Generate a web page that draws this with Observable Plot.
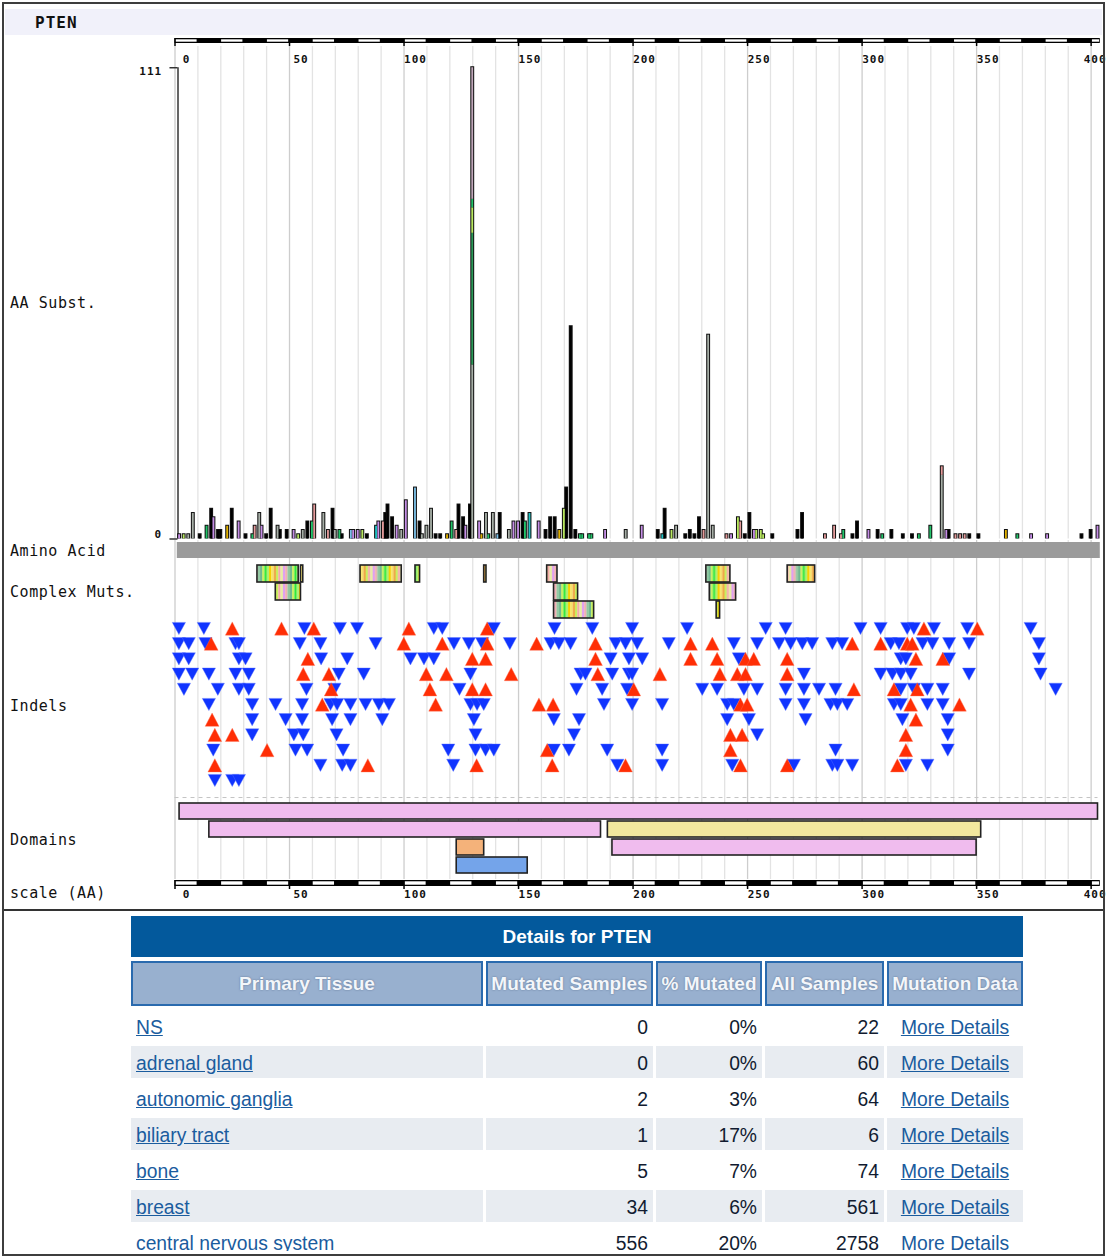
<!DOCTYPE html>
<html><head><meta charset="utf-8">
<script src="https://cdn.jsdelivr.net/npm/d3@7"></script>
<script src="https://cdn.jsdelivr.net/npm/@observablehq/plot@0.6"></script>
<style>
html,body{margin:0;padding:0;background:#fff;overflow:hidden;width:1107px;height:1257px;}
#page{position:relative;width:1107px;height:1257px;overflow:hidden;}
.panel{position:absolute;left:0;}
.panel svg{display:block;overflow:visible;max-width:none;}
.panel text{letter-spacing:1px;}
.lbl{position:absolute;left:10px;font-family:"DejaVu Sans Mono",monospace;font-size:15px;line-height:16px;letter-spacing:0.55px;color:#111;white-space:nowrap;}
#hdr{position:absolute;left:5px;top:9px;width:1097px;height:26px;background:#f1f1fa;}
#hdr span{position:absolute;left:30px;top:4px;font-family:"DejaVu Sans Mono",monospace;font-weight:bold;font-size:16px;letter-spacing:1px;color:#111;}
#frame{position:absolute;left:2px;top:2px;width:1099px;height:1250px;border:2px solid #3d3d3d;pointer-events:none;}
#sep{position:absolute;left:3px;top:909px;width:1101px;height:2px;background:#333;}
#tablewrap{position:absolute;left:0;top:912px;width:1103px;height:339px;overflow:hidden;}
table.details{position:absolute;left:128px;top:0;border-collapse:separate;border-spacing:3px 4px;table-layout:fixed;width:898px;font-family:"Liberation Sans",Arial,sans-serif;font-size:19.3px;}
table.details td.title{height:41px;background:#03599c;color:#fff;font-weight:bold;text-align:center;padding:0;font-size:19px;}
table.details th{height:41px;background:#98b0cf;border:2px solid #2a6aae;color:#f3f6fa;font-weight:bold;text-align:center;padding:0;white-space:nowrap;overflow:hidden;text-shadow:0 0 2px #5d7190;font-size:19px;}
table.details tr.data td{height:28px;padding:4px 5px 0 5px;vertical-align:middle;white-space:nowrap;color:#111b30;}
table.details tr.data + tr.data td{}
table.details tr.alt td{background:#e8ecf1;}
table.details td.num{text-align:right;}
table.details td.md{text-align:center;}
table.details a{color:#1a5c9e;text-decoration:underline;}
</style></head>
<body><div id="page"></div>
<script>
// ---------------- data ----------------
const geneName = "PTEN";
const proteinLength = 403;
const axisTicks = [0, 50, 100, 150, 200, 250, 300, 350, 400];
const substTicks = [0, 111];

// AA substitutions: [residue, count, substitution colour class]
const aaSubst = [
  [2,1,"lavender"],[4,1,"lgreen"],[6,1,"gray"],[8,6,"gray"],[11,1,"black"],
  [14,3,"green"],[16,7,"black"],[17,5,"lavender"],[19,2,"black"],[20,2,"black"],
  [23,3,"yellow"],[25,7,"black"],[28,4,"lavender"],
  [31,1,"black"],[34,1,"green"],[35,3,"pink"],[37,6,"gray"],[38,3,"lavender"],[40,1,"black"],
  [42,7,"black"],[45,3,"gray"],[46,2,"black"],[49,2,"black"],
  [52,2,"lavender"],[54,1,"lgreen"],[56,2,"gray"],[58,4,"black"],[60,4,"green"],[61,8,"pink"],
  [65,6,"gray"],[67,2,"pink"],[69,7,"black"],[70,2,"gray"],[72,2,"green"],[73,1,"black"],
  [77,2,"lblue"],[78,2,"lavender"],[80,2,"lavender"],[82,2,"lgreen"],[84,1,"black"],
  [88,3,"cyan"],[89,4,"lavender"],[91,4,"pink"],[92,6,"black"],[93,8,"black"],[95,5,"black"],[97,3,"lavender"],[99,2,"gray"],[101,9,"lavender"],
  [105,12,"lblue"],[107,4,"black"],[108,1,"gray"],[110,3,"gray"],[112,7,"gray"],[114,1,"black"],[116,1,"black"],
  [119,1,"yellow"],[121,4,"green"],[123,2,"pink"],[124,8,"black"],[126,5,"black"],[127,3,"lavender"],[129,8,"black"],
  [130,41,"gray"],[130,31,"dgreen"],[130,6,"lgreen"],[130,2,"green"],[130,31,"mauve"],
  [133,4,"lavender"],[134,1,"yellow"],[136,6,"gray"],[137,1,"green"],[139,6,"gray"],[141,1,"lblue"],[142,6,"black"],
  [146,2,"gray"],[148,4,"lavender"],[150,4,"lavender"],[152,6,"black"],[153,4,"green"],[155,6,"cyan"],
  [159,4,"lavender"],[162,2,"black"],[164,5,"black"],[166,5,"black"],[168,2,"yellow"],[170,7,"lgreen"],[171,12,"black"],[173,50,"black"],
  [175,2,"black"],[177,1,"green"],[178,1,"green"],[181,1,"green"],[182,1,"green"],[188,2,"lavender"],[197,2,"gray"],[204,3,"lavender"],
  [211,2,"black"],[213,1,"cyan"],[214,7,"black"],[217,2,"lgreen"],[219,3,"gray"],[223,1,"black"],[225,2,"black"],[227,1,"black"],[229,5,"black"],[231,2,"pink"],[233,48,"gray"],[235,3,"gray"],
  [241,1,"pink"],[243,1,"lavender"],[246,5,"lgreen"],[247,4,"pink"],[249,1,"black"],[251,6,"black"],[253,2,"lavender"],[254,2,"lgreen"],[256,2,"lgreen"],[257,1,"lgreen"],[261,1,"black"],
  [272,2,"black"],[274,6,"black"],
  [284,1,"pink"],[288,3,"pink"],[291,1,"pink"],[292,2,"green"],[296,1,"black"],[298,4,"black"],
  [303,2,"lavender"],[307,2,"black"],[309,1,"green"],[313,2,"black"],[318,1,"black"],[322,1,"black"],[325,1,"green"],[330,3,"green"],[335,15,"gray"],[335,2,"pink"],
  [337,2,"lavender"],[338,2,"black"],[341,1,"pink"],[343,1,"pink"],[345,1,"pink"],[347,1,"black"],
  [351,1,"black"],[363,2,"yellow"],[368,1,"green"],[374,1,"lavender"],[381,1,"lavender"],[396,1,"black"],[400,2,"black"],[403,3,"lavender"]
];
const substTypes  = ["gray","black","lgreen","yellow","lavender","pink","lblue","green","cyan","dgreen","mauve"];
const substColors = ["#a6aea6","#000000","#b8e860","#e0b000","#c58ee6","#e49a9a","#7cc0e8","#22c46a","#20c4c4","#2a9a58","#bfa6b8"];

// complex mutations: [start, end, row]
const complexMuts = [
  [36,54,1],[55,56,1],[81,99,1],[105,107,1],[135,136,1],[162.5,167,1],[232,242.5,1],[267.5,279.5,1],
  [44,55,2],[165.5,176,2],[233.5,245,2],
  [165.5,183,3],[236.5,238,3]
];

// indels: [residue, row]
const deletions = [
  [1.7,1],[12.6,1],[56.5,1],[72,1],[79.5,1],[113,1],[116.7,1],[139.2,1],[165.7,1],[182.2,1],[199.6,1],[223.6,1],[257.9,1],[266.6,1],[299.3,1],[308.1,1],[319.7,1],[322.6,1],[331.4,1],[345.9,1],[373.6,1],
  [1.7,2],[6,2],[13.3,2],[26.4,2],[27.9,2],[54.5,2],[63.5,2],[87.6,2],[121.8,2],[128.3,2],[134.1,2],[146.2,2],[164,2],[167.6,2],[172.7,2],[192.4,2],[196.7,2],[201.8,2],[215.6,2],[244,2],[254.2,2],[263.7,2],[268.8,2],[273.9,2],[278.2,2],[287,2],[291.3,2],[312.5,2],[316.1,2],[326.4,2],[330.7,2],[338,2],[346.7,2],[377.2,2],
  [1.7,3],[6,3],[27.9,3],[30.8,3],[63.8,3],[75.2,3],[102.8,3],[108.7,3],[113,3],[190.2,3],[198.2,3],[204,3],[246.2,3],[316.9,3],[319.1,3],[338,3],[377.2,3],
  [1.7,4],[7.5,4],[14.8,4],[26.4,4],[32.2,4],[71.5,4],[82.4,4],[129,4],[177.1,4],[179.2,4],[190.9,4],[198.2,4],[199.6,4],[274.6,4],[308.1,4],[313.2,4],[316.9,4],[321.2,4],[346.7,4],[377.9,4],
  [3.9,5],[18.7,5],[27.9,5],[32.2,5],[57.4,5],[69.6,5],[124.2,5],[175.3,5],[186.5,5],[197.4,5],[230.2,5],[236.7,5],[248.4,5],[254.2,5],[266.6,5],[274.6,5],[281.2,5],[288.4,5],[316.9,5],[322.6,5],[328.5,5],[335.2,5],[384.5,5],
  [14.8,6],[33.7,6],[43.9,6],[55.5,6],[67.9,6],[70.8,6],[76.6,6],[83.2,6],[89,6],[93.4,6],[129,6],[131.9,6],[134.8,6],[187.3,6],[199.6,6],[212.7,6],[241.1,6],[244,6],[266.6,6],[274.6,6],[286.2,6],[289.2,6],[293.5,6],[313.9,6],[316.9,6],[328.5,6],[335.2,6],
  [33.7,7],[48.3,7],[55.5,7],[68.6,7],[76.6,7],[90.5,7],[130.5,7],[165.4,7],[176.4,7],[241.1,7],[250.6,7],[275.3,7],[317.6,7],[337.4,7],
  [33.7,8],[51.9,8],[56,8],[70.5,8],[131.2,8],[174.2,8],[254.2,8],[337.4,8],
  [16.7,9],[52.6,9],[57.7,9],[73.4,9],[119.3,9],[131.2,9],[135.6,9],[139.2,9],[165.4,9],[172,9],[188.7,9],[212.7,9],[288.4,9],[337.4,9],
  [63.5,10],[73,10],[76.6,10],[121.5,10],[193.1,10],[212.7,10],[243.3,10],[270.2,10],[287,10],[289.2,10],[295.7,10],[319.1,10],[328.5,10],
  [17.4,11],[25,11],[27.9,11]
];
const insertions = [
  [25,1],[46.5,1],[60.6,1],[102.1,1],[136.3,1],[327,1],[350.3,1],
  [15.8,2],[99.9,2],[116.7,2],[136.3,2],[157.9,2],[183.6,2],[225.1,2],[234.6,2],[295.7,2],[308.1,2],[319.7,2],[321.9,2],
  [58,3],[129.8,3],[135.6,3],[183.6,3],[225.1,3],[236.7,3],[249.1,3],[252.7,3],[267.3,3],[323.5,3],[335.2,3],
  [56,4],[67.2,4],[109.7,4],[118.5,4],[146.8,4],[184.6,4],[211.7,4],[237.9,4],[245.5,4],[249.1,4],[267.3,4],
  [68.2,5],[111.3,5],[129.8,5],[135.6,5],[200.3,5],[296.4,5],[313.9,5],[324.1,5],
  [64.3,6],[113.8,6],[158.9,6],[165.1,6],[246.9,6],[249.8,6],[321.2,6],[342.5,6],
  [16.2,7],[323.5,7],
  [17.4,8],[25,8],[242.5,8],[247.6,8],[319.1,8],
  [40.2,9],[162.5,9],[242.5,9],[319.1,9],
  [17.4,10],[84.2,10],[131.7,10],[164.7,10],[196.7,10],[246.9,10],[267.3,10],[315.4,10]
];

// domains: [start, end, row, source]
const domains = [
  [2,403,1,"family"],[15,186,2,"family"],[189,352,2,"c2"],[123,135,3,"site"],[191,350,3,"family"],[123,154,4,"catalytic"]
];
const domainSources = ["family","c2","site","catalytic"];
const domainColors  = ["#f0bcee","#f2e89e","#f4b27a","#74a4ea"];

const trackLabels = [["AA Subst.",303],["Amino Acid",551],["Complex Muts.",592],["Indels",706],["Domains",840],["scale (AA)",893]];

const tableHeaders = ["Primary Tissue","Mutated Samples","% Mutated","All Samples","Mutation Data"];
const tissues = ["NS","adrenal gland","autonomic ganglia","biliary tract","bone","breast","central nervous system"];
const mutatedSamples = [0,0,2,1,5,34,556];
const pctMutated = ["0%","0%","3%","17%","7%","6%","20%"];
const allSamples = [22,60,64,6,74,561,2758];

// ---------------- layout helpers ----------------
const page = document.getElementById("page");
const W = 1107, ML = 174.5, MR = 9.5;
const gridAll = d3.range(0, 401, 10);
const lastTick = axisTicks[axisTicks.length - 1];
function grid(extra = {}) {
  return [
    Plot.ruleX(gridAll.filter(d => d % 50 !== 0), {stroke: "#e3e3e3", strokeWidth: 1.3, ...extra}),
    Plot.ruleX(gridAll.filter(d => d % 50 === 0), {stroke: "#cdcdcd", strokeWidth: 1.3, ...extra})
  ];
}
function tickLabels(anchor, dy) {
  return [
    Plot.text(axisTicks.filter(d => d !== lastTick), {x: d => d, text: d => String(d), frameAnchor: anchor, dy, dx: 11.5, fill: "#111"}),
    Plot.text([lastTick], {x: d => d, text: d => String(d), frameAnchor: anchor, dy, dx: 4, fill: "#111"})
  ];
}
function panel(top, height, opts) {
  const svg = Plot.plot({
    width: W, height, marginLeft: ML, marginRight: MR, marginTop: 0, marginBottom: 0,
    x: {domain: [0, proteinLength], axis: null},
    style: {background: "transparent", overflow: "visible", fontFamily: '"DejaVu Sans Mono", monospace', fontSize: "11px", fontWeight: "bold", color: "#111"},
    ...opts
  });
  const div = document.createElement("div");
  div.className = "panel";
  div.style.top = top + "px";
  div.appendChild(svg);
  page.appendChild(div);
  return svg;
}
function scaleBar(extraMarks) {
  const whites = d3.range(0, proteinLength + 1, 20);
  return [
    Plot.barX([proteinLength], {x1: 0, x2: d => d + 1, fill: "#000"}),
    Plot.barX(whites, {x1: d => d, x2: d => Math.min(d + 10, proteinLength + 1), fill: "#fff", insetTop: 1.3, insetBottom: 1.3, insetLeft: 0.8, insetRight: 0.8}),
    Plot.ruleX(axisTicks, {stroke: "#000", strokeWidth: 1.5, insetBottom: -3}),
    ...extraMarks
  ];
}

// header
const hdr = document.createElement("div"); hdr.id = "hdr";
hdr.innerHTML = `<span>${geneName}</span>`;
page.appendChild(hdr);

// top scale bar
panel(36, 10, {marginTop: 2, marginBottom: 3, marks: scaleBar([])});

// AA substitution panel
const substTotals = Array.from(d3.rollup(aaSubst, v => d3.sum(v, d => d[1]), d => d[0]), ([aa, total]) => ({aa, total}));
const substSegs = [];
{
  const acc = new Map();
  for (const [aa, n, t] of aaSubst) {
    const y1 = acc.get(aa) || 0;
    substSegs.push({aa, y1, y2: y1 + n, t});
    acc.set(aa, y1 + n);
  }
}
panel(46, 494, {
  marginBottom: 1.5,
  y: {domain: [0, 116], axis: null},
  color: {domain: substTypes, range: substColors},
  marks: [
    ...grid(),
    ...tickLabels("top", 9),
    Plot.ruleX([0], {y1: 0, y2: substTicks[1], dx: 3, stroke: "#333", strokeWidth: 1.5}),
    Plot.ruleY(substTicks, {x1: -2.2, x2: 1.3, stroke: "#333", strokeWidth: 1.5}),
    Plot.text([substTicks[1]], {x: -3, y: d => d, text: d => String(d), textAnchor: "end", dx: -6, dy: 4, fill: "#111"}),
    Plot.text([substTicks[0]], {x: -3, y: d => d, text: d => String(d), textAnchor: "end", dx: -6, dy: -5, fill: "#111"}),
    Plot.rect(substTotals, {x1: d => d.aa - 0.85, x2: d => d.aa + 0.85, y1: 0, y2: "total", fill: "#111", insetTop: -1}),
    Plot.rect(substSegs, {x1: d => d.aa - 0.4, x2: d => d.aa + 0.4, y1: "y1", y2: "y2", fill: "t"})
  ]
});

// Amino acid track
panel(540, 20, {
  marginTop: 2, marginBottom: 2,
  marks: [
    ...grid({insetTop: -2, insetBottom: -2}),
    Plot.barX([proteinLength], {x1: 1, x2: d => d + 1, fill: "#9b9b9b"})
  ]
});

// Complex mutations
const cmSvg = panel(560, 61, {
  marginTop: 4, marginBottom: 1,
  y: {type: "band", domain: [1, 2, 3], padding: 0.04, axis: null},
  marks: [
    ...grid({insetTop: -4, insetBottom: -1}),
    Plot.barX(complexMuts, {x1: d => d[0], x2: d => d[1], y: d => d[2], fill: "url(#cmStripes)", stroke: "#222", strokeWidth: 1.6})
  ]
});
{
  const stripeCols = ["#f7d000","#f5e46a","#f0a848","#c8f060","#f4a8a8","#e8f0a0","#e0a0f0","#f0b0b0","#90c8a0","#70b890","#c8f060","#30e838","#b0f070"];
  const sw = 2.3;
  const ns = "http://www.w3.org/2000/svg";
  const defs = document.createElementNS(ns, "defs");
  const pat = document.createElementNS(ns, "pattern");
  pat.setAttribute("id", "cmStripes");
  pat.setAttribute("patternUnits", "userSpaceOnUse");
  pat.setAttribute("width", String(sw * stripeCols.length));
  pat.setAttribute("height", "60");
  stripeCols.forEach((c, i) => {
    const r = document.createElementNS(ns, "rect");
    r.setAttribute("x", String(i * sw)); r.setAttribute("y", "0");
    r.setAttribute("width", String(sw + 0.1)); r.setAttribute("height", "60");
    r.setAttribute("fill", c);
    pat.appendChild(r);
  });
  defs.appendChild(pat);
  cmSvg.insertBefore(defs, cmSvg.firstChild);
}

// Indels
const triDown = {draw(ctx, size) { const k = Math.sqrt(size / Math.PI); ctx.moveTo(-1.3 * k, -1.2 * k); ctx.lineTo(1.3 * k, -1.2 * k); ctx.lineTo(0, 1.2 * k); ctx.closePath(); }};
const triUp = {draw(ctx, size) { const k = Math.sqrt(size / Math.PI); ctx.moveTo(-1.3 * k, 1.25 * k); ctx.lineTo(1.3 * k, 1.25 * k); ctx.lineTo(0, -1.25 * k); ctx.closePath(); }};
panel(621, 178, {
  marginTop: 7, marginBottom: 19,
  y: {domain: [1, 11], reverse: true, axis: null},
  marks: [
    ...grid({insetTop: -7, insetBottom: -19}),
    Plot.ruleY([12.12], {stroke: "#c4c4c4", strokeDasharray: "4,4", strokeWidth: 1}),
    Plot.dot(deletions, {x: d => d[0], y: d => d[1], symbol: triDown, r: 5.1, fill: "#1034ff", stroke: "#5a74ff", strokeWidth: 0.4}),
    Plot.dot(insertions, {x: d => d[0], y: d => d[1], symbol: triUp, r: 5.3, fill: "#ff2e05", stroke: "#ff7050", strokeWidth: 0.4})
  ]
});

// Domains
panel(799, 80, {
  marginTop: 1, marginBottom: 2,
  y: {type: "band", domain: [1, 2, 3, 4], padding: 0.1, axis: null},
  color: {domain: domainSources, range: domainColors},
  marks: [
    ...grid({insetTop: -1, insetBottom: -2}),
    Plot.barX(domains, {x1: d => d[0], x2: d => d[1], y: d => d[2], fill: d => d[3], stroke: "#222", strokeWidth: 1.6})
  ]
});

// bottom scale
panel(879, 26, {
  marginTop: 1, marginBottom: 19,
  marks: scaleBar(tickLabels("bottom", 11))
});

// track labels
for (const [t, cy] of trackLabels) {
  const d = document.createElement("div");
  d.className = "lbl";
  d.style.top = (cy - 8) + "px";
  d.textContent = t;
  page.appendChild(d);
}

// table
const wrap = document.createElement("div"); wrap.id = "tablewrap";
let html = `<table class="details"><colgroup><col style="width:352px"><col style="width:167px"><col style="width:106px"><col style="width:119px"><col style="width:136px"></colgroup>`;
html += `<tr><td class="title" colspan="5">Details for ${geneName}</td></tr>`;
html += `<tr>${tableHeaders.map(h => `<th>${h}</th>`).join("")}</tr>`;
tissues.forEach((t, i) => {
  html += `<tr class="data ${i % 2 ? "alt" : ""}"><td><a>${t}</a></td><td class="num">${mutatedSamples[i]}</td><td class="num">${pctMutated[i]}</td><td class="num">${allSamples[i]}</td><td class="md"><a>More Details</a></td></tr>`;
});
html += `</table>`;
wrap.innerHTML = html;
page.appendChild(wrap);

const sep = document.createElement("div"); sep.id = "sep"; page.appendChild(sep);
const frame = document.createElement("div"); frame.id = "frame"; page.appendChild(frame);
</script>
</body></html>
